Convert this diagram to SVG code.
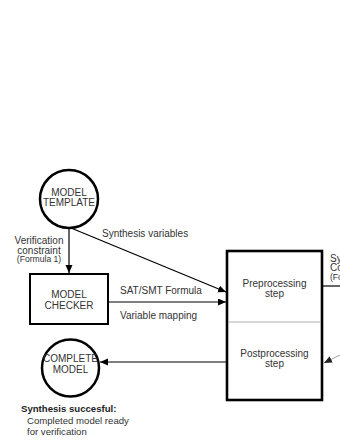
<svg xmlns="http://www.w3.org/2000/svg" width="340" height="440" viewBox="0 0 340 440">
<defs>
<style>
text{font-family:"Liberation Sans",Arial,sans-serif;font-size:10px;fill:#333}
.c{text-anchor:middle}
.sm{font-size:8.6px}
.b{font-weight:bold;fill:#222}
.node{fill:#fff;stroke:#000}
.edge{fill:none;stroke:#000;stroke-width:1.2}
</style>
<marker id="ah" markerUnits="userSpaceOnUse" markerWidth="9" markerHeight="8" refX="8" refY="3.5" orient="auto">
<path d="M0,0 L8,3.5 L0,7 z" fill="#000"/>
</marker>
<marker id="ahg" markerUnits="userSpaceOnUse" markerWidth="9" markerHeight="8" refX="8" refY="3.5" orient="auto">
<path d="M0,0 L8,3.5 L0,7 z" fill="#222"/>
</marker>
</defs>
<rect width="340" height="440" fill="#fff"/>
<g id="connectors">
<line class="edge" x1="69" y1="228" x2="69" y2="273" marker-end="url(#ah)"/>
<line class="edge" x1="71" y1="228" x2="226" y2="292" marker-end="url(#ah)"/>
<line class="edge" x1="108" y1="302" x2="226" y2="302" marker-end="url(#ah)"/>
<line class="edge" x1="227" y1="362" x2="100" y2="362" marker-end="url(#ah)"/>
<line class="edge" x1="322" y1="286" x2="340" y2="286"/>
<line x1="346" y1="352" x2="324" y2="363" stroke="#888" stroke-width="0.8" marker-end="url(#ahg)"/>
<text x="39" y="244" class="c">Verification</text>
<text x="39" y="253.5" class="c">constraint</text>
<text x="39" y="262" class="c sm">(Formula 1)</text>
<text x="102" y="236.5">Synthesis variables</text>
<text x="120" y="294">SAT/SMT Formula</text>
<text x="120" y="319">Variable mapping</text>
<text x="330" y="261.5">Synthesis</text>
<text x="330" y="271">Constraint</text>
<text x="330" y="280" class="sm">(Formula 2)</text>
</g>
<g id="model-template">
<circle class="node" cx="69" cy="199" r="29" stroke-width="2.5"/>
<text x="69" y="195.5" class="c">MODEL</text>
<text x="69" y="205.5" class="c">TEMPLATE</text>
</g>
<g id="model-checker">
<rect class="node" x="30" y="274" width="78" height="50" stroke-width="2"/>
<text x="69" y="297.5" class="c">MODEL</text>
<text x="69" y="309" class="c">CHECKER</text>
</g>
<g id="synthesis-box">
<rect class="node" x="227" y="251" width="95" height="149" stroke-width="2.6"/>
<line x1="228.3" y1="322" x2="320.7" y2="322" stroke="#999" stroke-width="0.8"/>
<text x="274.5" y="286.5" class="c">Preprocessing</text>
<text x="274.5" y="297" class="c">step</text>
<text x="274.5" y="356.5" class="c">Postprocessing</text>
<text x="274.5" y="367" class="c">step</text>
</g>
<g id="complete-model">
<circle class="node" cx="70.5" cy="368" r="28.5" stroke-width="2.5"/>
<text x="70.5" y="361.5" class="c">COMPLETE</text>
<text x="70.5" y="372.5" class="c">MODEL</text>
</g>
<g id="result-note">
<text x="21" y="411.5" class="b" style="font-size:9.6px">Synthesis succesful:</text>
<text x="27" y="423.5" style="font-size:9.6px">Completed model ready</text>
<text x="27" y="434.5" style="font-size:9.6px">for verification</text>
</g>
</svg>
